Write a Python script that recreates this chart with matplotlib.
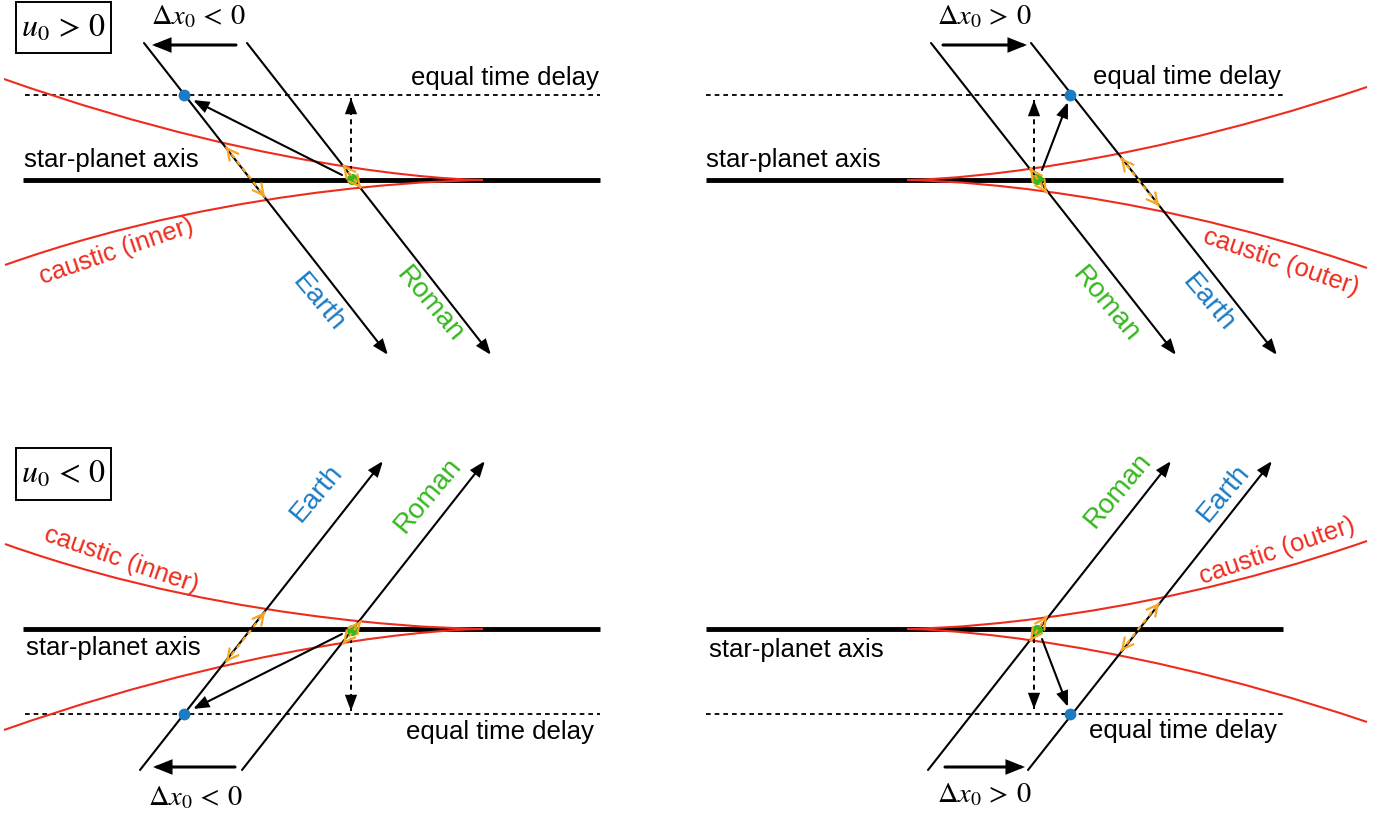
import numpy as np
import matplotlib.pyplot as plt
from matplotlib.path import Path
from matplotlib.patches import PathPatch, FancyArrowPatch, Rectangle

plt.rcParams['font.family'] = ['Liberation Sans', 'DejaVu Sans']
plt.rcParams['mathtext.fontset'] = 'stix'

W, H = 1397, 818
FLIP = 809  # the bottom row is the top row mirrored about y = FLIP / 2

RED = '#ee2c1d'
ORANGE = '#f6a623'
BLUE = '#1b7cc4'
GREEN = '#35b81f'

# ---- top row, pixels; index 0 = left (inner caustic), 1 = right (outer caustic)
axis_y = 180
delay_y = 95
axis_x = [(23, 600), (706, 1283)]
delay_x = [(25, 600), (706, 1285)]
cusp_x = [483, 907]
caustic_upper_end = [(4, 79), (1367, 87)]
caustic_lower_end = [(5, 265), (1367, 268)]
caustic_bend = [(0.40, 0.50), (0.40, 0.45)]

blue_dot = [(184, 95), (1070, 95)]
green_dot = [(352, 179), (1037, 179)]
earth_span = [((226, 147), (265, 197)), ((1121, 158), (1159, 206))]
roman_span = [((343, 165), (361, 188)), ((1030, 168), (1047, 193))]
shift_arrow = [((342, 175), (193, 100)), ((1042, 170), (1068, 102))]
delay_arrow = [((351, 171), (351, 98)), ((1034, 171), (1034, 100))]

# trajectories, per panel: tl, tr, bl, br
earth_track = [((144, 43), (388, 355)), ((1031, 43), (1277, 355)),
               ((140, 770), (383, 461)), ((1028, 770), (1272, 461))]
roman_track = [((247, 43), (491, 355)), ((931, 43), (1176, 355)),
               ((242, 770), (485, 461)), ((928, 770), (1171, 461))]
dx_arrow = [((236, 45), (152, 45)), ((943, 45), (1027, 45)),
            ((235, 767), (153, 767)), ((945, 767), (1025, 767))]
dx_text = [r'$\Delta x_0\,<\,0$', r'$\Delta x_0\,>\,0$', r'$\Delta x_0\,<\,0$', r'$\Delta x_0\,>\,0$']
dx_text_xy = [(198, 17), (984, 17), (195, 798), (984, 795)]

delay_text_xy = [(599, 78), (1281, 77), (594, 732), (1277, 731)]
axis_text_xy = [(24, 160), (706, 160), (26, 648), (709, 650)]
caustic_text = ['caustic (inner)', 'caustic (outer)', 'caustic (inner)', 'caustic (outer)']
caustic_text_xy = [(117, 251), (1281, 262), (121, 560), (1277, 551)]
caustic_text_rot = [19, -19, -19, 19]
earth_text_xy = [(318, 303), (1208, 303), (317, 493), (1224, 493)]
roman_text_xy = [(430, 305), (1106, 305), (428, 495), (1118, 490)]
track_text_rot = [-50, -50, 50, 50]

u0_text = [r'$u_0\,>\,0$', r'$u_0\,<\,0$']
u0_box = [(16, 2, 95, 51), (16, 448, 95, 52)]

FS = 18.5


def arrow(ax, p0, p1, color='k', lw=1.4, style='-|>', hl=0.45, hw=0.17, z=4):
    a = FancyArrowPatch(p0, p1, arrowstyle=f'{style},head_length={hl},head_width={hw}',
                        mutation_scale=20, color=color, lw=lw, shrinkA=0, shrinkB=0,
                        zorder=z, joinstyle='miter')
    ax.add_patch(a)


def head_only(ax, p0, p1, color, style, hl, hw, lw, z):
    # tiny stub ending at p1 so only the head shows
    p0, p1 = np.array(p0, float), np.array(p1, float)
    d = (p1 - p0) / np.hypot(*(p1 - p0))
    arrow(ax, tuple(p1 - 0.5 * d), tuple(p1), color=color, lw=lw, style=style, hl=hl, hw=hw, z=z)


def caustic_branch(ax, cusp, end, frac):
    cx, cy = cusp
    verts = [cusp, cusp, (cx + frac * (end[0] - cx), cy), end]
    codes = [Path.MOVETO, Path.CURVE4, Path.CURVE4, Path.CURVE4]
    ax.add_patch(PathPatch(Path(verts, codes), fill=False, ec=RED, lw=1.5, zorder=3))


fig = plt.figure(figsize=(W / 100, H / 100), dpi=100)
ax = fig.add_axes([0, 0, 1, 1])
ax.set_xlim(0, W)
ax.set_ylim(H, 0)
ax.axis('off')

for row in range(2):
    fy = (lambda y: y) if row == 0 else (lambda y: FLIP - y)
    fp = lambda p: (p[0], fy(p[1]))
    for col in range(2):
        k = row * 2 + col

        # star-planet axis and equal-time-delay line
        ax.plot(axis_x[col], [fy(axis_y)] * 2, color='k', lw=3.5, solid_capstyle='butt', zorder=2)
        ax.plot(delay_x[col], [fy(delay_y)] * 2, color='k', lw=1.3, dashes=(2.6, 2.2), zorder=2)

        # caustic branches meeting at the cusp
        cusp = (cusp_x[col], fy(axis_y))
        caustic_branch(ax, cusp, fp(caustic_upper_end[col]), caustic_bend[col][0])
        caustic_branch(ax, cusp, fp(caustic_lower_end[col]), caustic_bend[col][1])

        # source trajectories seen from Earth and Roman
        arrow(ax, *earth_track[k], lw=1.5)
        arrow(ax, *roman_track[k], lw=1.5)

        # offset arrow and its label
        arrow(ax, *dx_arrow[k], lw=2.2, hl=0.5, hw=0.2)
        ax.text(*dx_text_xy[k], dx_text[k], fontsize=20.5, ha='center', va='center')

        # vertical shift to equal time delay
        p0, p1 = fp(delay_arrow[col][0]), fp(delay_arrow[col][1])
        ax.plot([p0[0], p1[0]], [p0[1], p1[1]], color='k', lw=1.4, dashes=(2.6, 2.2), zorder=4)
        head_only(ax, p0, p1, 'k', '-|>', 0.45, 0.17, 1.4, 4)

        # Roman position to Earth position
        arrow(ax, fp(shift_arrow[col][0]), fp(shift_arrow[col][1]), lw=1.5)

        ax.plot(*fp(green_dot[col]), 'o', color=GREEN, ms=8, mec='none', zorder=5)
        ax.plot(*fp(blue_dot[col]), 'o', color=BLUE, ms=8.5, mec='none', zorder=5)

        # caustic crossing durations (dashed orange, open heads)
        for span in (earth_span[col], roman_span[col]):
            q0, q1 = fp(span[0]), fp(span[1])
            ax.plot([q0[0], q1[0]], [q0[1], q1[1]], color=ORANGE, lw=1.6, dashes=(2.2, 1.8), zorder=6)
            head_only(ax, q1, q0, ORANGE, '->', 0.38, 0.2, 1.6, 6)
            head_only(ax, q0, q1, ORANGE, '->', 0.38, 0.2, 1.6, 6)

        # labels
        ax.text(*delay_text_xy[k], 'equal time delay', fontsize=FS, ha='right', va='center')
        ax.text(*axis_text_xy[k], 'star-planet axis', fontsize=FS, ha='left', va='center')
        ax.text(*caustic_text_xy[k], caustic_text[k], fontsize=FS, color=RED,
                ha='center', va='center', rotation=caustic_text_rot[k], rotation_mode='anchor')
        ax.text(*earth_text_xy[k], 'Earth', fontsize=20, color=BLUE,
                ha='center', va='center', rotation=track_text_rot[k], rotation_mode='anchor')
        ax.text(*roman_text_xy[k], 'Roman', fontsize=20, color=GREEN,
                ha='center', va='center', rotation=track_text_rot[k], rotation_mode='anchor')

# sign of u0 for each row
for (x, y, w, h), s in zip(u0_box, u0_text):
    ax.add_patch(Rectangle((x, y), w, h, fill=False, ec='k', lw=1.4, zorder=5))
    ax.text(x + w / 2, y + h / 2 + 1, s, fontsize=23, ha='center', va='center')

fig.savefig('out.png', dpi=100)
